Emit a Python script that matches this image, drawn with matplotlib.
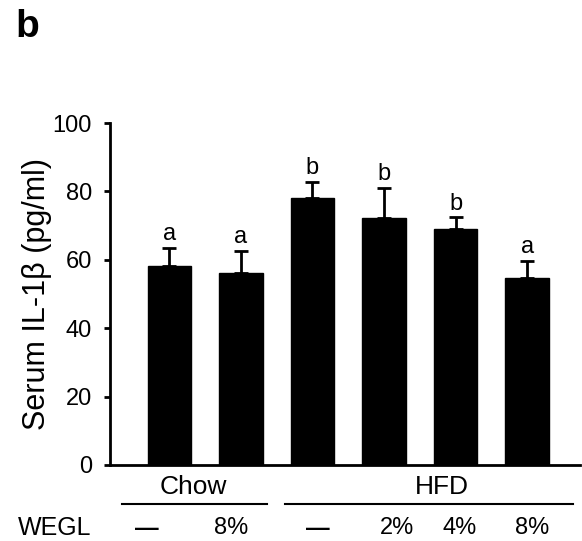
import matplotlib
matplotlib.use("Agg")
import matplotlib.pyplot as plt
import matplotlib.transforms as mtransforms

plt.rcParams['font.family'] = ['Liberation Sans', 'DejaVu Sans']

# Data
groups = ["Chow", "HFD"]
wegl_labels = ["\u2014", "8%", "\u2014", "2%", "4%", "8%"]
values = [58.3, 56.1, 78.0, 72.1, 68.9, 54.8]
errors = [5.3, 6.5, 4.8, 9.0, 3.5, 4.8]
sig_letters = ["a", "a", "b", "b", "b", "a"]
yticks = [0, 20, 40, 60, 80, 100]
ylabel = "Serum IL-1\u03b2 (pg/ml)"

fig = plt.figure(figsize=(5.82, 5.41), dpi=100)
ax = fig.add_axes([0.189, 0.1405, 0.8076, 0.632])

x = list(range(len(values)))
ax.bar(x, values, width=0.61, color="black", edgecolor="black", zorder=2)
ax.errorbar(x, values, yerr=[[0]*len(errors), errors], fmt="none",
            ecolor="black", elinewidth=2, capsize=5, capthick=2, zorder=1)

for xi, v, e, s in zip(x, values, errors, sig_letters):
    ax.text(xi, v + e + 0.8, s, ha="center", va="bottom", fontsize=17)

ax.set_xlim(-0.83, 5.74)
ax.set_ylim(0, 100)
ax.set_yticks(yticks)
ax.set_yticklabels([str(t) for t in yticks], fontsize=17)
ax.set_xticks([])
ax.tick_params(axis="y", direction="out", length=4, width=2, pad=9)
ax.spines["top"].set_visible(False)
ax.spines["right"].set_visible(False)
ax.spines["left"].set_linewidth(2)
ax.spines["bottom"].set_linewidth(2)
ax.set_ylabel(ylabel, fontsize=22, labelpad=0.5)

# Group labels below the axis
trans = mtransforms.blended_transform_factory(ax.transData, fig.transFigure)
group_x = [0.33, 3.81]
group_lines = [(-0.66, 1.36), (1.62, 5.64)]
for gx, g, (x0, x1) in zip(group_x, groups, group_lines):
    fig.text(gx, 1 - 487/541, g, transform=trans, ha="center", va="center", fontsize=19)
    ax.plot([x0, x1], [1 - 504/541]*2, transform=trans, color="black",
            lw=1.5, clip_on=False)

wegl_x = [-0.31, 0.87, 2.08, 3.18, 4.06, 5.07]
for wx, lab in zip(wegl_x, wegl_labels):
    fig.text(wx, 1 - 528/541, lab, transform=trans, ha="center", va="center",
             fontsize=17, fontweight="bold" if lab == "\u2014" else "normal")
fig.text(18/582, 1 - 528/541, "WEGL", ha="left", va="center", fontsize=18)

fig.text(15/582, 1 - 27/541, "b", ha="left", va="center", fontsize=28, fontweight="bold")

fig.savefig("out.png", dpi=100)
